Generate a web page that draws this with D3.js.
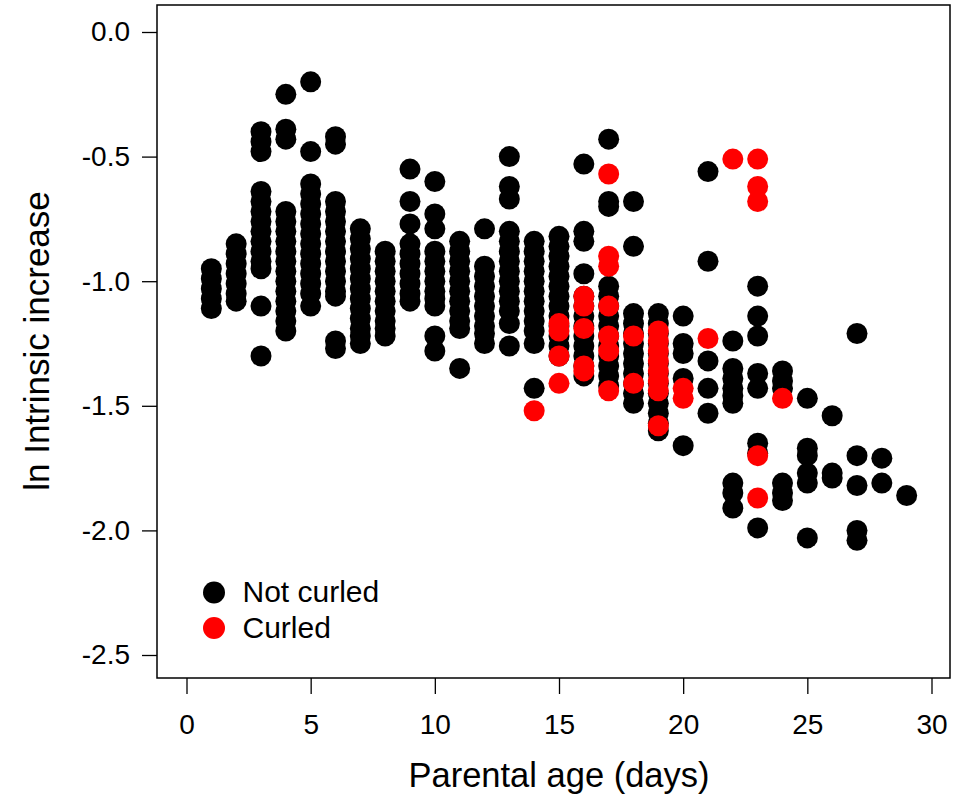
<!DOCTYPE html>
<html>
<head>
<meta charset="utf-8">
<script src="https://cdn.jsdelivr.net/npm/d3@7"></script>
<style>
  body { margin: 0; background: #fff; }
  text { font-family: "Liberation Sans", Arial, sans-serif; fill: #000; }
</style>
</head>
<body>
<div id="viz"></div>
<script>
// parental age (days) for each column of points
var ages = [1, 2, 3, 4, 5, 6, 7, 8, 9, 10, 11, 12, 13, 14, 15, 16, 17, 18, 19, 20,
            21, 22, 23, 24, 25, 26, 27, 28, 29];

// ln intrinsic increase, one list per age - not curled
var notCurled = [
  [-0.95, -0.99, -1.03, -1.07, -1.11],
  [-0.85, -0.89, -0.93, -0.97, -1.01, -1.05, -1.08],
  [-0.40, -0.44, -0.48, -0.64, -0.68, -0.72, -0.76, -0.80, -0.84, -0.88, -0.92, -0.95, -1.10, -1.30],
  [-0.25, -0.39, -0.43, -0.72, -0.76, -0.80, -0.84, -0.88, -0.92, -0.96, -1.00, -1.04, -1.08, -1.12, -1.16, -1.20],
  [-0.20, -0.48, -0.61, -0.65, -0.69, -0.73, -0.77, -0.81, -0.85, -0.89, -0.93, -0.97, -1.01, -1.05, -1.10],
  [-0.42, -0.45, -0.68, -0.72, -0.76, -0.80, -0.84, -0.88, -0.92, -0.96, -1.00, -1.04, -1.06, -1.24, -1.27],
  [-0.79, -0.83, -0.87, -0.91, -0.95, -0.99, -1.03, -1.07, -1.11, -1.15, -1.19, -1.22, -1.25],
  [-0.88, -0.92, -0.96, -1.00, -1.04, -1.08, -1.12, -1.16, -1.19, -1.22],
  [-0.55, -0.68, -0.77, -0.85, -0.89, -0.93, -0.97, -1.01, -1.05, -1.08],
  [-0.60, -0.73, -0.79, -0.88, -0.92, -0.96, -1.00, -1.04, -1.07, -1.10, -1.22, -1.28],
  [-0.84, -0.88, -0.92, -0.96, -1.00, -1.04, -1.08, -1.12, -1.16, -1.19, -1.35],
  [-0.79, -0.94, -0.98, -1.02, -1.06, -1.10, -1.14, -1.18, -1.21, -1.25],
  [-0.50, -0.62, -0.67, -0.80, -0.84, -0.88, -0.92, -0.96, -1.00, -1.04, -1.08, -1.12, -1.17, -1.26],
  [-0.84, -0.88, -0.92, -0.96, -1.00, -1.04, -1.08, -1.12, -1.16, -1.20, -1.25, -1.43],
  [-0.82, -0.86, -0.90, -0.94, -0.98, -1.02, -1.06, -1.10, -1.14, -1.18, -1.22, -1.26, -1.30],
  [-0.53, -0.80, -0.84, -0.97, -1.06, -1.10, -1.14, -1.18, -1.22, -1.26, -1.30, -1.34, -1.38],
  [-0.43, -0.68, -0.70, -1.02, -1.06, -1.10, -1.14, -1.18, -1.22, -1.26, -1.30, -1.34, -1.38, -1.42],
  [-0.68, -0.86, -1.13, -1.17, -1.21, -1.25, -1.29, -1.33, -1.37, -1.41, -1.45, -1.49],
  [-1.13, -1.17, -1.21, -1.25, -1.29, -1.33, -1.37, -1.41, -1.45, -1.49, -1.53, -1.57, -1.60],
  [-1.14, -1.25, -1.29, -1.39, -1.66],
  [-0.56, -0.92, -1.32, -1.43, -1.53],
  [-1.24, -1.35, -1.39, -1.43, -1.46, -1.49, -1.81, -1.85, -1.91],
  [-1.02, -1.14, -1.22, -1.37, -1.43, -1.65, -1.69, -1.99],
  [-1.36, -1.40, -1.43, -1.81, -1.85, -1.88],
  [-1.47, -1.67, -1.70, -1.77, -1.81, -2.03],
  [-1.54, -1.77, -1.79],
  [-1.21, -1.70, -1.82, -2.00, -2.04],
  [-1.71, -1.81],
  [-1.86]
];

// curled
var curled = [
  [], [], [], [], [], [], [], [], [], [], [], [], [],
  [-1.52],
  [-1.17, -1.20, -1.30, -1.41],
  [-1.06, -1.10, -1.19, -1.34, -1.36],
  [-0.57, -0.90, -0.94, -1.10, -1.22, -1.28, -1.44],
  [-1.22, -1.41],
  [-1.20, -1.24, -1.28, -1.32, -1.36, -1.40, -1.44, -1.58],
  [-1.43, -1.47],
  [-1.23],
  [-0.51],
  [-0.51, -0.62, -0.68, -1.70, -1.87],
  [-1.47],
  [], [], [], [], []
];

var xTicks = [0, 5, 10, 15, 20, 25, 30];
var yTicks = [0, -0.5, -1, -1.5, -2, -2.5];
var legendLabels = ["Not curled", "Curled"];
var colors = ["#000000", "#ff0000"];

var WIDTH = 953, HEIGHT = 805;
var BOX = {left: 157, right: 950, top: 5, bottom: 678};
var R = 10.5;

var svg = d3.select("#viz").append("svg")
  .attr("width", WIDTH)
  .attr("height", HEIGHT);

var x = d3.scaleLinear().domain([0, 30]).range([186.5, 931.5]);
var y = d3.scaleLinear().domain([0, -2.5]).range([32, 655]);

// flatten the per-age lists into points
function toPoints(lists) {
  var pts = [];
  lists.forEach(function(vals, i) {
    vals.forEach(function(v) { pts.push({age: ages[i], value: v}); });
  });
  return pts;
}

// box
svg.append("rect")
  .attr("x", BOX.left)
  .attr("y", BOX.top)
  .attr("width", BOX.right - BOX.left)
  .attr("height", BOX.bottom - BOX.top)
  .style("fill", "none")
  .style("stroke", "#000")
  .style("stroke-width", 1.5);

// axes
var xAxis = svg.append("g")
  .attr("transform", "translate(0," + BOX.bottom + ")")
  .call(d3.axisBottom(x).tickValues(xTicks).tickSize(16).tickPadding(20).tickFormat(d3.format("d")));
var yAxis = svg.append("g")
  .attr("transform", "translate(" + BOX.left + ",0)")
  .call(d3.axisLeft(y).tickValues(yTicks).tickSize(15).tickPadding(12).tickFormat(d3.format(".1f")));

[xAxis, yAxis].forEach(function(a) {
  a.select(".domain").remove();
  a.selectAll(".tick line").style("stroke", "#000").style("stroke-width", 1.3);
  a.selectAll(".tick text")
    .style("font-family", "'Liberation Sans', Arial, sans-serif")
    .style("font-size", "28px")
    .style("fill", "#000");
});
yAxis.selectAll(".tick text").text(function(d) { return d3.format(".1f")(d).replace("\u2212", "-"); });

// points: not curled first, curled on top
svg.append("g").selectAll("circle")
  .data(toPoints(notCurled))
  .enter().append("circle")
  .attr("cx", function(d) { return x(d.age); })
  .attr("cy", function(d) { return y(d.value); })
  .attr("r", R)
  .style("fill", colors[0]);

svg.append("g").selectAll("circle")
  .data(toPoints(curled))
  .enter().append("circle")
  .attr("cx", function(d) { return x(d.age); })
  .attr("cy", function(d) { return y(d.value); })
  .attr("r", R)
  .style("fill", colors[1]);

// axis titles
svg.append("text")
  .attr("x", 559)
  .attr("y", 787)
  .attr("text-anchor", "middle")
  .style("font-size", "34.5px")
  .text("Parental age (days)");

svg.append("text")
  .attr("transform", "translate(49,341) rotate(-90)")
  .attr("text-anchor", "middle")
  .style("font-size", "35px")
  .text("ln Intrinsic increase");

// legend
var legend = svg.append("g").selectAll("g")
  .data(legendLabels)
  .enter().append("g")
  .attr("transform", function(d, i) { return "translate(214," + (592.5 + i * 35.5) + ")"; });
legend.append("circle")
  .attr("r", 11)
  .style("fill", function(d, i) { return colors[i]; });
legend.append("text")
  .attr("x", 28.5)
  .attr("y", 9.5)
  .style("font-size", "30px")
  .text(function(d) { return d; });
</script>
</body>
</html>
